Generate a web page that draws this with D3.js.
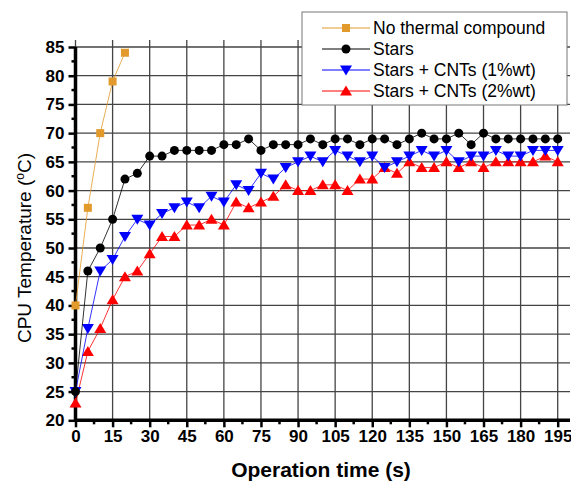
<!DOCTYPE html>
<html>
<head>
<meta charset="utf-8">
<script src="https://cdn.jsdelivr.net/npm/d3@7"></script>
<style>
  body { margin: 0; background: #fff; }
  svg { display: block; font-family: Arial, "Liberation Sans", sans-serif; }
</style>
</head>
<body>
<svg id="chart"></svg>
<script>
// time in seconds, one reading every 5 s
const times = d3.range(0, 200, 5);
const timeNoCompound = [0, 5, 10, 15, 20];
const tempNoCompound = [40, 57, 70, 79, 84];
const tempStars = [25, 46, 50, 55, 62, 63, 66, 66, 67, 67, 67, 67, 68, 68, 69, 67, 68, 68, 68, 69,
  68, 69, 69, 68, 69, 69, 68, 69, 70, 69, 69, 70, 68, 70, 69, 69, 69, 69, 69, 69];
const tempCnt1 = [25, 36, 46, 48, 52, 55, 54, 56, 57, 58, 57, 59, 58, 61, 60, 63, 62, 64, 65, 66,
  65, 67, 66, 65, 66, 64, 65, 66, 67, 66, 67, 65, 66, 66, 67, 66, 66, 67, 67, 67];
const tempCnt2 = [23, 32, 36, 41, 45, 46, 49, 52, 52, 54, 54, 55, 54, 58, 57, 58, 59, 61, 60, 60,
  61, 61, 60, 62, 62, 64, 63, 65, 64, 64, 65, 64, 65, 64, 65, 65, 65, 65, 66, 65];
const xTicks = d3.range(0, 196, 15);
const yTicks = d3.range(20, 86, 5);

const width = 571, height = 484;
const svg = d3.select("#chart").attr("width", width).attr("height", height);

const x = d3.scaleLinear().domain([0, 195]).range([75.5, 557.7]);
const y = d3.scaleLinear().domain([20, 85]).range([420.3, 47]);

const series = [
  { name: "No thermal compound", t: timeNoCompound, v: tempNoCompound, color: "#e39a2d", shape: "square" },
  { name: "Stars", t: times, v: tempStars, color: "#000000", shape: "circle" },
  { name: "Stars + CNTs (1%wt)", t: times, v: tempCnt1, color: "#0000ff", shape: "down" },
  { name: "Stars + CNTs (2%wt)", t: times, v: tempCnt2, color: "#ff0000", shape: "up" }
];

// grid
svg.append("g").selectAll("line").data(yTicks).join("line")
  .attr("x1", x(0)).attr("x2", 570)
  .attr("y1", d => y(d)).attr("y2", d => y(d))
  .attr("stroke", "#444").attr("stroke-width", 1.3);
svg.append("g").selectAll("line").data(xTicks).join("line")
  .attr("x1", d => x(d)).attr("x2", d => x(d))
  .attr("y1", y(20)).attr("y2", 40)
  .attr("stroke", "#444").attr("stroke-width", 1.3);

// axes
const xAxis = svg.append("g").attr("transform", `translate(0,${y(20)})`)
  .call(d3.axisBottom(x).tickValues(xTicks).tickSize(7).tickPadding(3));
xAxis.append("g").selectAll("line").data(d3.range(7.5, 196, 15)).join("line")
  .attr("x1", d => x(d)).attr("x2", d => x(d)).attr("y1", 0).attr("y2", 4)
  .attr("stroke", "#000").attr("stroke-width", 2.5);

const yAxis = svg.append("g").attr("transform", `translate(${x(0)},0)`)
  .call(d3.axisLeft(y).tickValues(yTicks).tickSize(7).tickPadding(4));
yAxis.append("g").selectAll("line").data(d3.range(22.5, 85, 5)).join("line")
  .attr("x1", 0).attr("x2", -4).attr("y1", d => y(d)).attr("y2", d => y(d))
  .attr("stroke", "#000").attr("stroke-width", 2.5);

[xAxis, yAxis].forEach(a => {
  a.select(".domain").attr("stroke", "#000").attr("stroke-width", 3.5);
  a.selectAll(".tick line").attr("stroke", "#000").attr("stroke-width", 2.5);
  a.selectAll("text").attr("fill", "#000").attr("font-size", 17).attr("font-weight", "bold")
    .attr("font-family", "Arial, 'Liberation Sans', sans-serif");
});
xAxis.select(".domain").attr("d", `M${x(0)},0H570`);
yAxis.select(".domain").attr("d", `M0,${y(85)}V${y(20)}`);

// titles
svg.append("text").attr("x", 321).attr("y", 477).attr("text-anchor", "middle")
  .attr("font-size", 21).attr("font-weight", "bold").text("Operation time (s)");
const yt = svg.append("text").attr("transform", "translate(31,248) rotate(-90)")
  .attr("text-anchor", "middle").attr("font-size", 19);
yt.append("tspan").text("CPU Temperature (");
yt.append("tspan").attr("font-size", 12).attr("dy", -7).text("o");
yt.append("tspan").attr("dy", 7).text("C)");

// markers
function drawMarker(g, shape, color, cx, cy) {
  if (shape === "square") {
    g.append("rect").attr("x", cx - 4).attr("y", cy - 4).attr("width", 8).attr("height", 8).attr("fill", color);
  } else if (shape === "circle") {
    g.append("circle").attr("cx", cx).attr("cy", cy).attr("r", 4.5).attr("fill", color);
  } else if (shape === "down") {
    g.append("path").attr("d", `M${cx - 6},${cy - 4.5}L${cx + 6},${cy - 4.5}L${cx},${cy + 5.5}Z`).attr("fill", color);
  } else {
    g.append("path").attr("d", `M${cx - 6},${cy + 4.5}L${cx + 6},${cy + 4.5}L${cx},${cy - 5.5}Z`).attr("fill", color);
  }
}

const line = d3.line().x(d => x(d[0])).y(d => y(d[1]));
series.slice().reverse().forEach(s => {
  const pts = s.t.map((t, i) => [t, s.v[i]]);
  const g = svg.append("g");
  g.append("path").attr("d", line(pts)).attr("fill", "none")
    .attr("stroke", s.color).attr("stroke-width", 1).attr("stroke-opacity", 0.8);
  pts.forEach(p => drawMarker(g, s.shape, s.color, x(p[0]), y(p[1])));
});

// legend
const lg = svg.append("g");
lg.append("rect").attr("x", 302).attr("y", 12).attr("width", 265).attr("height", 93)
  .attr("fill", "#fff").attr("stroke", "#777").attr("stroke-width", 1);
series.forEach((s, i) => {
  const ly = 28 + i * 21;
  lg.append("line").attr("x1", 322).attr("x2", 370).attr("y1", ly).attr("y2", ly)
    .attr("stroke", s.color).attr("stroke-width", 1);
  drawMarker(lg, s.shape, s.color, 346, ly);
  lg.append("text").attr("x", 373).attr("y", ly + 6).attr("font-size", 17.5).text(s.name);
});
</script>
</body>
</html>
